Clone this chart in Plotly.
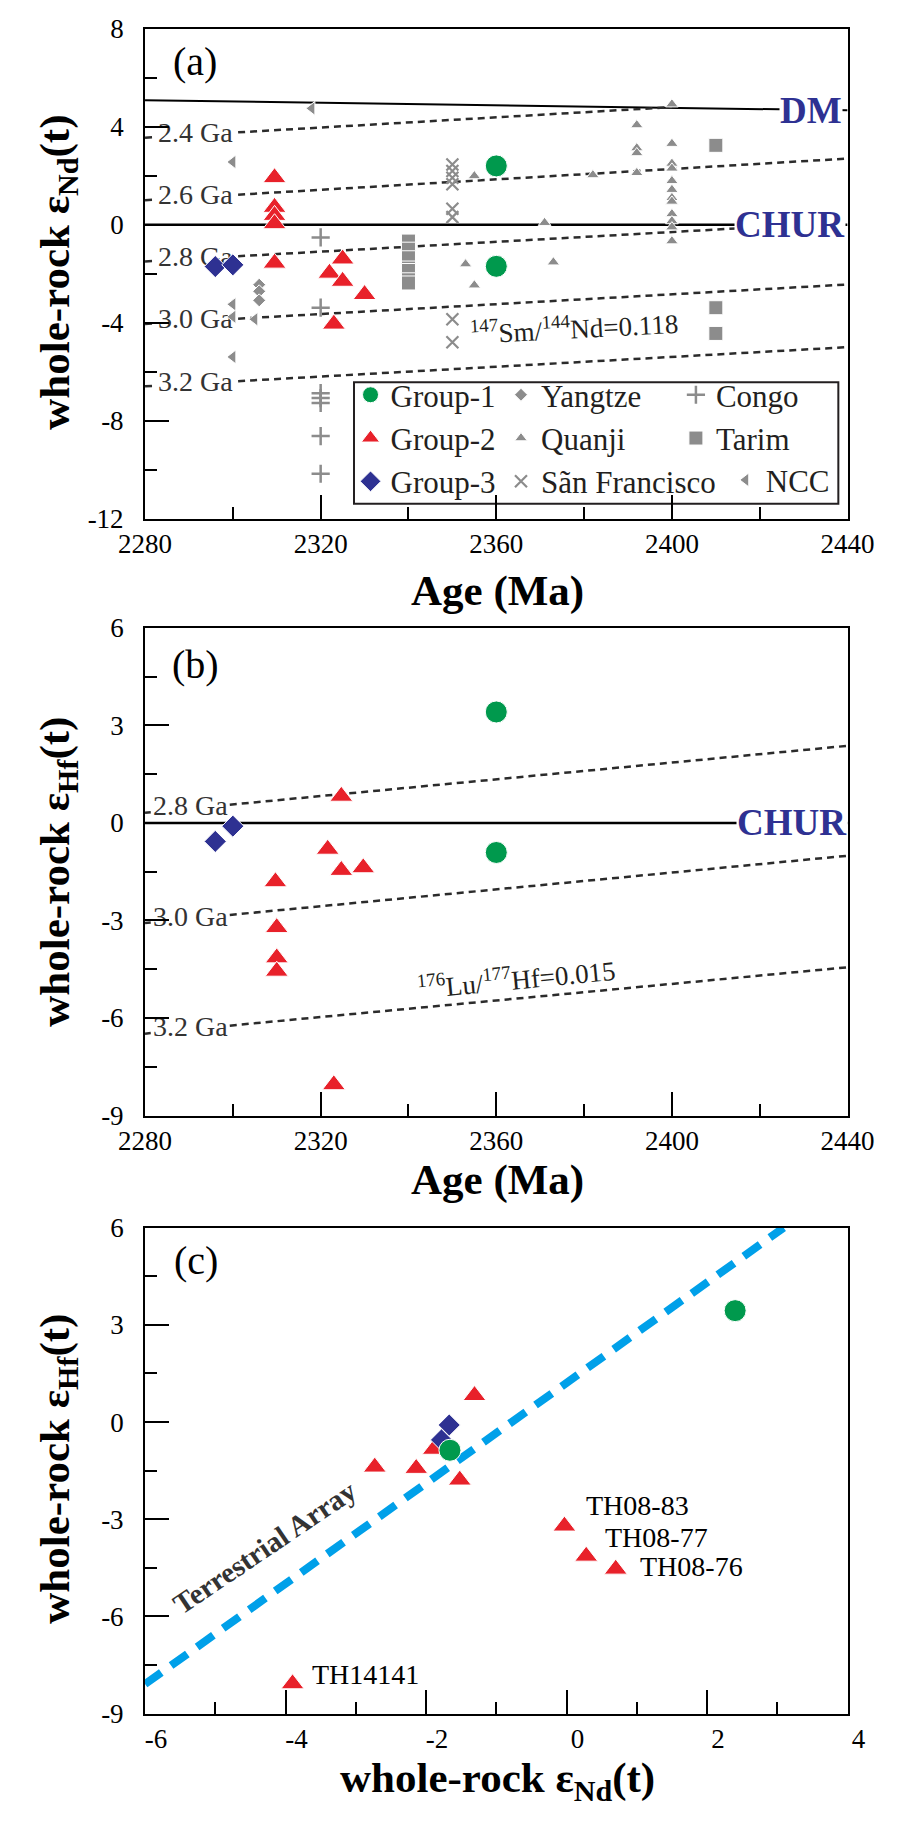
import plotly.graph_objects as go

# ---------------- panel (a): whole-rock eNd(t) vs age ----------------
g1_age_a = [2360, 2360]
g1_nd_a = [2.40, -1.70]
g2_age_a = [2309.5, 2309.5, 2309.5, 2309.5, 2309.5, 2325, 2322, 2325, 2330, 2323]
g2_nd_a = [1.92, 0.71, 0.38, 0.04, -1.57, -1.40, -1.98, -2.31, -2.85, -4.06]
g3_age_a = [2296, 2300]
g3_nd_a = [-1.71, -1.64]

yangtze_age = [2306, 2306, 2306]
yangtze_nd = [-2.45, -2.72, -3.09]
quanji_age = [2355, 2353, 2355, 2371, 2373, 2382, 2392, 2392, 2392, 2392,
              2400, 2400, 2400, 2400, 2400, 2400, 2400, 2400, 2400, 2400, 2400, 2400]
quanji_nd = [1.99, -1.61, -2.47, 0.08, -1.53, 2.03, 4.07, 3.13, 2.93, 2.12,
             4.92, 3.31, 2.50, 2.30, 1.79, 1.43, 1.10, 0.95, 0.44, 0.15, -0.10, -0.67]
sf_age = [2350, 2350, 2350, 2350, 2350, 2350, 2350, 2350]
sf_nd = [2.46, 2.19, 1.92, 1.65, 0.65, 0.31, -3.86, -4.80]
congo_age = [2320, 2320, 2320, 2320, 2320, 2320, 2320]
congo_nd = [-0.52, -3.39, -6.88, -7.08, -7.28, -8.63, -10.17]
tarim_age = [2340, 2340, 2340, 2340, 2340, 2340, 2340, 2410, 2410, 2410]
tarim_nd = [-0.67, -1.00, -1.35, -1.77, -1.87, -2.25, -2.38, 3.24, -3.39, -4.44]
ncc_age = [2318, 2300, 2300, 2300, 2305, 2300]
ncc_nd = [4.75, 2.56, -3.25, -3.76, -3.86, -5.40]

# reference lines panel (a)
age_span = [2280, 2440]
dm_nd = [5.08, 4.67]
chur_line = [0, 0]
tdm_labels_a = ["2.4 Ga", "2.6 Ga", "2.8 Ga", "3.0 Ga", "3.2 Ga"]
tdm_age_a = [[2280, 2400], [2280, 2440], [2280, 2440], [2280, 2440], [2280, 2440]]
tdm_nd_a = [[3.55, 4.80], [1.00, 2.70], [-1.50, 0.10], [-4.05, -2.44], [-6.60, -5.00]]

# ---------------- panel (b): whole-rock eHf(t) vs age ----------------
g1_age_b = [2360, 2360]
g1_hf_b = [3.41, -0.91]
g2_age_b = [2324.7, 2321.6, 2324.7, 2329.7, 2309.7, 2310, 2310, 2310, 2323]
g2_hf_b = [0.82, -0.81, -1.46, -1.38, -1.81, -3.22, -4.15, -4.56, -8.05]
g3_age_b = [2296, 2300]
g3_hf_b = [-0.57, -0.10]
tdm_labels_b = ["2.8 Ga", "3.0 Ga", "3.2 Ga"]
tdm_hf_b = [[0.31, 2.37], [-3.08, -1.01], [-6.48, -4.44]]

# ---------------- panel (c): eHf(t) vs eNd(t) ----------------
g1_nd_c = [2.40, -1.66]
g1_hf_c = [3.44, -0.87]
g2_nd_c = [-3.90, -2.73, -2.14, -1.89, -1.52, -1.31, -0.03, 0.28, 0.70]
g2_hf_c = [-8.08, -1.39, -1.43, -0.84, -1.79, 0.82, -3.21, -4.14, -4.54]
g3_nd_c = [-1.78, -1.67]
g3_hf_c = [-0.55, -0.09]
ta_nd = [-6.0, 3.09]
ta_hf = [-8.09, 6.0]
sample_labels = ["TH14141", "TH08-83", "TH08-77", "TH08-76"]
sample_nd = [-3.65, 0.25, 0.52, 1.02]
sample_hf = [-7.80, -2.58, -3.56, -4.47]

# ticks
age_ticks = [2280, 2320, 2360, 2400, 2440]
age_ticktext = ["2280", "2320", "2360", "2400", "2440"]
age_minor = [2300, 2340, 2380, 2420]
nd_ticks_a = [-12, -8, -4, 0, 4, 8]
nd_ticktext_a = ["-12", "-8", "-4", "0", "4", "8"]
nd_minor_a = [-10, -6, -2, 2, 6]
hf_ticks = [-9, -6, -3, 0, 3, 6]
hf_ticktext = ["-9", "-6", "-3", "0", "3", "6"]
hf_minor = [-7.5, -4.5, -1.5, 1.5, 4.5]
nd_ticks_c = [-6, -4, -2, 0, 2, 4]
nd_ticktext_c = ["-6", "-4", "-2", "0", "2", "4"]
nd_minor_c = [-5, -3, -1, 1, 3]

# ---------------- styling ----------------
W, H = 907, 1824
FONT = "Liberation Serif"
GRAY = "#8c8c8c"
RED = "#e8212a"
GREEN = "#00994d"
BLUE = "#2e3192"
DASHC = "#2b2b2b"
TXT = "#231f20"

fig = go.Figure()


def interp(x, xs, ys):
    return ys[0] + (ys[1] - ys[0]) * (x - xs[0]) / (xs[1] - xs[0])


def add_line(xs, ys, ax, color="black", width=2, dash="solid"):
    fig.add_trace(go.Scatter(x=xs, y=ys, mode="lines", xaxis=ax[0], yaxis=ax[1],
                             line=dict(color=color, width=width, dash=dash),
                             showlegend=False, hoverinfo="skip"))


def add_model_line(xs, ys, gap, label, ax):
    g0, g1 = gap
    lx = [xs[0], g0, None, g1, xs[1]]
    ly = [ys[0], interp(g0, xs, ys), None, interp(g1, xs, ys), ys[1]]
    fig.add_trace(go.Scatter(x=lx, y=ly, mode="lines", xaxis=ax[0], yaxis=ax[1],
                             line=dict(color=DASHC, width=2.5, dash="7px,5px"),
                             connectgaps=False, showlegend=False, hoverinfo="skip"))
    xm = (g0 + g1) / 2
    fig.add_trace(go.Scatter(x=[xm], y=[interp(xm, xs, ys)], mode="text", text=[label],
                             textposition="middle center", xaxis=ax[0], yaxis=ax[1],
                             textfont=dict(family=FONT, size=28, color="#333333"),
                             showlegend=False, hoverinfo="skip"))


def add_pts(x, y, name, sym, color, size, ax, legend=None, lw=1.0, lc="white"):
    kw = {}
    if legend is not None:
        kw["legend"] = legend
        kw["showlegend"] = True
    else:
        kw["showlegend"] = False
    fig.add_trace(go.Scatter(x=x, y=y, mode="markers", name=name, xaxis=ax[0], yaxis=ax[1],
                             marker=dict(symbol=sym, color=color, size=size,
                                         line=dict(color=lc, width=lw)),
                             hoverinfo="skip", **kw))


A = ("x", "y")
B = ("x2", "y2")
C = ("x3", "y3")

# ---- panel (a) lines
add_line(age_span, dm_nd, A, width=2)
add_line(age_span, chur_line, A, width=2.5)
for lab, xs, ys in zip(tdm_labels_a, tdm_age_a, tdm_nd_a):
    add_model_line(xs, ys, (2281.7, 2301.2), lab, A)

# ---- panel (a) points
add_pts(yangtze_age, yangtze_nd, "Yangtze", "diamond", GRAY, 10, A, legend="legend2")
add_pts(quanji_age, quanji_nd, "Quanji", "triangle-up", GRAY, 11, A, legend="legend2")
add_pts(sf_age, sf_nd, "Sãn Francisco", "x-thin", GRAY, 12, A, legend="legend2", lw=2.2, lc=GRAY)
add_pts(congo_age, congo_nd, "Congo", "cross-thin", GRAY, 13, A, legend="legend3", lw=2.5, lc=GRAY)
add_pts(tarim_age, tarim_nd, "Tarim", "square", GRAY, 14, A, legend="legend3")
add_pts(ncc_age, ncc_nd, "NCC", "triangle-left", GRAY, 12, A, legend="legend4")
add_pts(g1_age_a, g1_nd_a, "Group-1", "circle", GREEN, 22, A, legend="legend")
add_pts(g2_age_a, g2_nd_a, "Group-2", "triangle-up", RED, 20, A, legend="legend")
add_pts(g3_age_a, g3_nd_a, "Group-3", "diamond", BLUE, 17, A, legend="legend")

# ---- panel (b)
add_line(age_span, chur_line, B, width=2.5)
for lab, ys in zip(tdm_labels_b, tdm_hf_b):
    add_model_line(age_span, ys, (2281.3, 2299.3), lab, B)
add_pts(g1_age_b, g1_hf_b, "Group-1", "circle", GREEN, 22, B)
add_pts(g2_age_b, g2_hf_b, "Group-2", "triangle-up", RED, 20, B)
add_pts(g3_age_b, g3_hf_b, "Group-3", "diamond", BLUE, 17, B)

# ---- panel (c)
add_line(ta_nd, ta_hf, C, color="#00a0e9", width=8, dash="20px,12px")
add_pts(g2_nd_c, g2_hf_c, "Group-2", "triangle-up", RED, 20, C)
add_pts(g3_nd_c, g3_hf_c, "Group-3", "diamond", BLUE, 17, C)
add_pts(g1_nd_c, g1_hf_c, "Group-1", "circle", GREEN, 22, C)

# ---------------- axes ----------------
X0, X1 = 125.5, 872.5
doms = {"a": (14, 512), "b": (623, 1119), "c": (1233, 1727)}


def ydom(k):
    t, b = doms[k]
    return [1 - b / H, 1 - t / H]


def axis(rng, dom, tv, tt, mv, anchor, shift=0, standoff=0):
    d = dict(range=rng, domain=dom, anchor=anchor, showline=True, linecolor="black",
             linewidth=2, mirror=True, ticks="inside", ticklen=24, tickwidth=2,
             tickcolor="black", showgrid=False, zeroline=False, tickmode="array",
             tickvals=tv, ticktext=tt, ticklabelstandoff=standoff,
             tickfont=dict(family=FONT, size=27, color="black"),
             minor=dict(tickmode="array", tickvals=mv, ticks="inside", ticklen=12,
                        tickwidth=2, tickcolor="black", showgrid=False))
    if shift:
        d["ticklabelshift"] = shift
    return d


xdom = [X0 / W, X1 / W]
layout_axes = dict(
    xaxis=axis([2280, 2440], xdom, age_ticks, age_ticktext, age_minor, "y"),
    yaxis=axis([-12, 8], ydom("a"), nd_ticks_a, nd_ticktext_a, nd_minor_a, "x", standoff=14),
    xaxis2=axis([2280, 2440], xdom, age_ticks, age_ticktext, age_minor, "y2"),
    yaxis2=axis([-9, 6], ydom("b"), hf_ticks, hf_ticktext, hf_minor, "x2", standoff=14),
    xaxis3=axis([-6, 4], xdom, nd_ticks_c, nd_ticktext_c, nd_minor_c, "y3", shift=11),
    yaxis3=axis([-9, 6], ydom("c"), hf_ticks, hf_ticktext, hf_minor, "x3", standoff=14),
)

# ---------------- annotations ----------------
ann = []


def pann(text, px, py, size, bold=False, angle=0, color="black"):
    ann.append(dict(text=("<b>%s</b>" % text) if bold else text, x=px / W, y=1 - py / H,
                    xref="paper", yref="paper", showarrow=False, xanchor="center",
                    yanchor="middle", textangle=angle,
                    font=dict(family=FONT, size=size, color=color)))


# axis titles
pann("Age (Ma)", 500, 586, 43, bold=True)
pann("Age (Ma)", 500, 1184, 43, bold=True)
pann("whole-rock ε<sub>Nd</sub>(t)", 500, 1796, 43, bold=True)
pann("whole-rock ε<sub>Nd</sub>(t)", 33, 262, 43, bold=True, angle=-90)
pann("whole-rock ε<sub>Hf</sub>(t)", 33, 871, 43, bold=True, angle=-90)
pann("whole-rock ε<sub>Hf</sub>(t)", 33, 1478, 43, bold=True, angle=-90)


def dann(text, x, y, xr, yr, size, color=TXT, bold=False, angle=0, xanchor="center", bg=None):
    d = dict(text=("<b>%s</b>" % text) if bold else text, x=x, y=y, xref=xr, yref=yr,
             showarrow=False, xanchor=xanchor, yanchor="middle", textangle=angle,
             font=dict(family=FONT, size=size, color=color))
    if bg:
        d["bgcolor"] = bg
        d["borderpad"] = 0
    ann.append(d)


dann("(a)", 2291.3, 6.68, "x", "y", 40, color="black")
dann("(b)", 2291.4, 4.87, "x2", "y2", 40, color="black")
dann("(c)", -5.27, 5.0, "x3", "y3", 40, color="black")
dann("DM", 2431.7, 4.68, "x", "y", 37, color=BLUE, bold=True, bg="white")
dann("CHUR", 2427.0, 0.0, "x", "y", 37, color=BLUE, bold=True, bg="white")
dann("CHUR", 2427.3, 0.0, "x2", "y2", 37, color=BLUE, bold=True, bg="white")
dann("<sup>147</sup>Sm/<sup>144</sup>Nd=0.118", 2377.8, -4.17, "x", "y", 27, angle=-3)
dann("<sup>176</sup>Lu/<sup>177</sup>Hf=0.015", 2364.5, -4.78, "x2", "y2", 27, angle=-5.5)
dann("Terrestrial Array", -4.29, -3.87, "x3", "y3", 29, color="#333333", bold=True, angle=-34)
for lab, xv, yv in zip(sample_labels, sample_nd, sample_hf):
    dann(lab, xv, yv, "x3", "y3", 28, color="black", xanchor="left")

# ---------------- legends ----------------
LEG_FS = 31
LEG_PITCH = LEG_FS * 1.3 + 3
LEG_TOP = 359


def legend(px, top=LEG_TOP):
    return dict(x=px / W, y=1 - top / H, xanchor="left", yanchor="top",
                orientation="v", bgcolor="rgba(0,0,0,0)", borderwidth=0,
                font=dict(family=FONT, size=LEG_FS, color=TXT), tracegroupgap=0,
                itemclick=False, itemdoubleclick=False)


shapes = [dict(type="rect", xref="paper", yref="paper", x0=347.7 / W, x1=862.7 / W,
               y0=1 - 497 / H, y1=1 - 373.3 / H, line=dict(color=TXT, width=2),
               fillcolor="white", layer="below")]

fig.update_layout(
    width=W, height=H, autosize=False,
    margin=dict(l=0, r=0, t=0, b=0),
    paper_bgcolor="white", plot_bgcolor="white",
    annotations=ann, shapes=shapes,
    legend=legend(344), legend2=legend(504), legend3=legend(690),
    legend4=legend(743, LEG_TOP + 2 * LEG_PITCH),
    hovermode=False,
    **layout_axes,
)

fig.write_html("out.html")
